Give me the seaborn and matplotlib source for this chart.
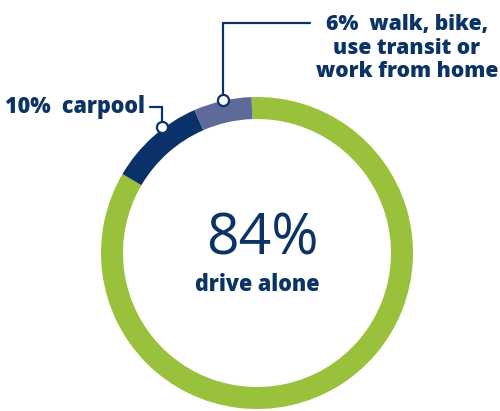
import matplotlib
matplotlib.use("Agg")
import matplotlib.pyplot as plt
import seaborn as sns

# data
categories = ["drive alone", "carpool", "walk, bike, use transit or work from home"]
values = [84, 10, 6]
labels_pct = ["84%", "10%", "6%"]

GREEN = "#9AC13B"
NAVY = "#0B3268"
SLATE = "#5E6A9A"
TEXT = "#0B3366"

sns.set_theme(style="white")
plt.rcParams['font.family'] = ['Open Sans', 'DejaVu Sans']

W, H = 500, 411
fig = plt.figure(figsize=(W / 100, H / 100), dpi=100)
ax = fig.add_axes([0, 0, 1, 1])

def Y(py):
    return H - py

cx, cy = 257, Y(253)
ax.pie(values, colors=[GREEN, NAVY, SLATE], startangle=92, counterclock=False,
       radius=156, center=(cx, cy), frame=True,
       wedgeprops=dict(width=22, edgecolor='none', linewidth=0))
ax.set_xlim(0, W)
ax.set_ylim(0, H)
ax.set_aspect('equal')
ax.axis('off')

# center text
ax.text(262, Y(240), labels_pct[0], ha='center', va='center', fontsize=41,
        color=TEXT, fontweight='normal')
ax.text(257.5, Y(285), categories[0], ha='center', va='center', fontsize=15.5,
        color=TEXT, fontweight=800)

# callout for 6%
ax.plot([223, 223, 310], [Y(100), Y(23), Y(23)], color=NAVY, lw=1.6, zorder=3,
        solid_joinstyle='miter')
ax.plot([223], [Y(100)], marker='o', ms=8, mfc='white', mec=NAVY, mew=1.6, zorder=4)
ax.text(407, Y(48), labels_pct[2] + "  walk, bike,\nuse transit or\nwork from home",
        ha='center', va='center', fontsize=15.2, color=TEXT, fontweight=800,
        linespacing=1.15)

# callout for 10%
ax.plot([150, 162, 162], [Y(107), Y(107), Y(127)], color=NAVY, lw=1.6, zorder=3,
        solid_joinstyle='miter')
ax.plot([162], [Y(127)], marker='o', ms=8, mfc='white', mec=NAVY, mew=1.6, zorder=4)
ax.text(145, Y(107), labels_pct[1] + "  " + categories[1], ha='right', va='center',
        fontsize=15.5, color=TEXT, fontweight=800)

fig.savefig("out.png", dpi=100, facecolor='white')
